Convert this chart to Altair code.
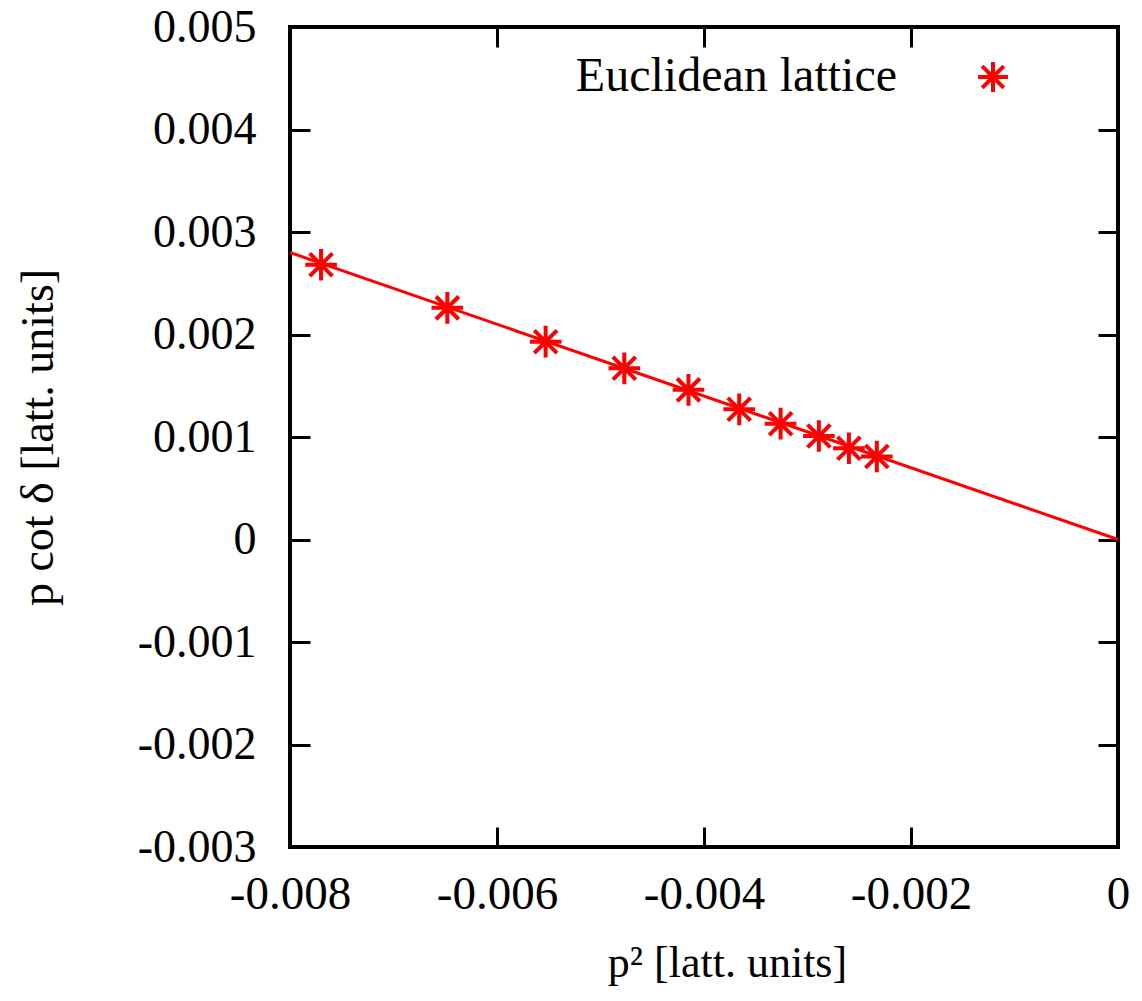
import altair as alt
import pandas as pd

# Data
p2 = [-0.0077, -0.00648, -0.00553, -0.00477, -0.00415, -0.00366, -0.00326, -0.00289, -0.00260, -0.00233]
pcot = [0.00268, 0.00226, 0.00193, 0.00167, 0.00146, 0.00127, 0.00113, 0.00101, 0.00089, 0.00081]
fit_x = [-0.008, 0.0]
fit_y = [0.0028, 0.0]
x_ticks = [-0.008, -0.006, -0.004, -0.002, 0.0]
y_ticks = [-0.003, -0.002, -0.001, 0.0, 0.001, 0.002, 0.003, 0.004, 0.005]
legend_label = "Euclidean lattice"

pts = pd.DataFrame({"x": p2, "y": pcot})
fit = pd.DataFrame({"x": fit_x, "y": fit_y})
leg = pd.DataFrame({"label": [legend_label]})

RED = "#ff0000"
SERIF = "Liberation Serif"
ASTER = "M-1,0L1,0M0,-1L0,1M-0.72,-0.72L0.72,0.72M-0.72,0.72L0.72,-0.72"

xscale = alt.Scale(domain=[-0.008, 0.0], nice=False, zero=False)
yscale = alt.Scale(domain=[-0.003, 0.005], nice=False, zero=False)

lab = "datum.value == 0 ? '0' : replace(format(datum.value, '.3f'), '\u2212', '-')"

x_bottom = alt.Axis(orient="bottom", values=x_ticks, labelExpr=lab, offset=-20, tickSize=20,
                    tickWidth=3, tickColor="black", domain=False, grid=False, labelFlush=False,
                    labelFont=SERIF, labelFontSize=47, labelColor="black", labelPadding=24,
                    title="p² [latt. units]", titleFont=SERIF, titleFontSize=44, titleX=437,
                    titleFontWeight="normal", titleColor="black", titlePadding=24)
y_left = alt.Axis(orient="left", values=y_ticks, labelExpr=lab, offset=-20, tickSize=20,
                  tickWidth=3, tickColor="black", domain=False, grid=False, labelFlush=False,
                  labelFont=SERIF, labelFontSize=46, labelColor="black", labelPadding=34,
                  title="p cot δ [latt. units]", titleFont=SERIF, titleFontSize=46,
                  titleX=-248, titleFontWeight="normal", titleColor="black")
x_top = alt.Axis(orient="top", values=x_ticks, labels=False, offset=-20, tickSize=20,
                 tickWidth=3, tickColor="black", domain=False, grid=False, title=None)
y_right = alt.Axis(orient="right", values=y_ticks, labels=False, offset=-20, tickSize=20,
                   tickWidth=3, tickColor="black", domain=False, grid=False, title=None)

line = alt.Chart(fit).mark_line(color=RED, strokeWidth=3).encode(
    x=alt.X("x:Q", scale=xscale, axis=x_bottom),
    y=alt.Y("y:Q", scale=yscale, axis=y_left),
)
points = alt.Chart(pts).mark_point(shape=ASTER, size=1000, stroke=RED, strokeWidth=4,
                                   filled=False, opacity=1).encode(
    x=alt.X("x:Q", scale=xscale, axis=x_top),
    y=alt.Y("y:Q", scale=yscale, axis=y_right),
)
leg_text = alt.Chart(leg).mark_text(font=SERIF, fontSize=48, align="right", baseline="middle",
                                    color="black").encode(
    x=alt.value(607), y=alt.value(50), text="label:N")
leg_sym = alt.Chart(leg).mark_point(shape=ASTER, size=900, stroke=RED, strokeWidth=4,
                                    filled=False, opacity=1).encode(
    x=alt.value(703), y=alt.value(50))

chart = alt.layer(line, points, leg_text, leg_sym).resolve_axis(
    x="independent", y="independent"
).properties(
    width=828, height=820,
    autosize=alt.AutoSizeParams(type="none"),
    padding={"left": 290, "top": 27, "right": 24, "bottom": 154},
    background="white",
).configure_view(stroke="black", strokeWidth=4)

chart.save("out.html", embed_options={"renderer": "svg", "actions": False})
